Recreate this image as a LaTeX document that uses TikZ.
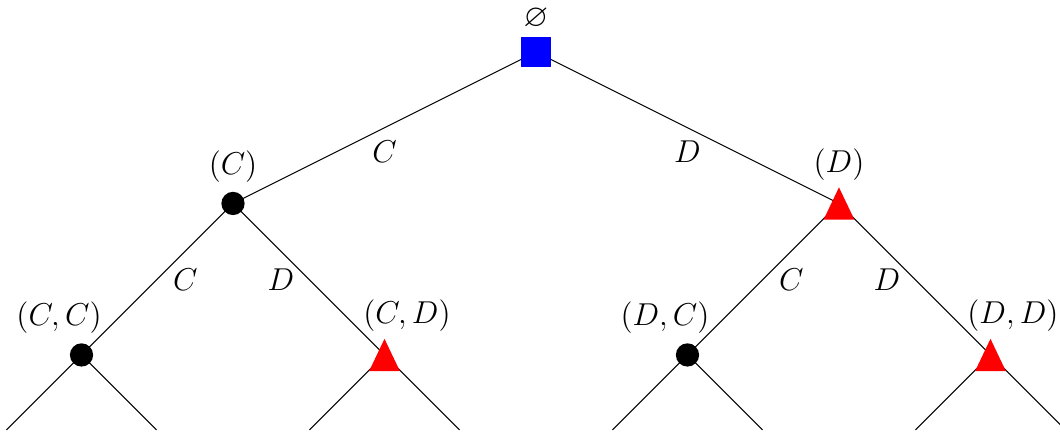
\documentclass[tikz,border=0pt]{standalone}
\usepackage{amssymb}
\usepackage{amsmath}
\usepackage{tikz}
\usetikzlibrary{shapes.geometric, positioning, backgrounds}
\tikzstyle{root} = [rectangle, minimum size=0.4cm, inner sep=0pt, fill=blue]
\tikzstyle{coop} = [circle, minimum size=0.31cm, inner sep=0pt, fill=black, label distance=2pt]
\tikzstyle{defect} = [rectangle, minimum width=0.41cm, minimum height=0.43cm, inner sep=0pt, path picture={\fill [red] (path picture bounding box.south west) -- (path picture bounding box.south east) -- (path picture bounding box.north) -- cycle;}]
\tikzstyle{edge} = [black]

\begin{document}
\begin{tikzpicture}[node distance=2cm, on grid, font=\large]
		\useasboundingbox (-7.147,0.693) rectangle (6.987,-5.093);
		% Nodes
		\node (R) [root, label={[inner sep=0.5pt, label distance=2pt]above:$\varnothing$}] {};
		\node (C) [coop, below left=2.02cm and 4.04cm of R, label=above:$(C)$] {};
		\node (D) [defect, below right=2.02cm and 4.04cm of R, label={[label distance=-1pt]above:$(D)$}] {};
		\node (CC) [coop, below left=2.02cm and 2.02cm of C, label={[xshift=-3mm]above:$(C,C)$}] {};
		\node (CD) [defect, below right=2.02cm and 2.02cm of C, label={[xshift=3mm, label distance=-1pt]above:$(C,D)$}] {};
		\node (DC) [coop, below left=2.02cm and 2.02cm of D, label={[xshift=-3mm]above:$(D,C)$}] {};
		\node (DD) [defect, below right=2.02cm and 2.02cm of D, label={[xshift=3mm, label distance=-1pt]above:$(D,D)$}] {};
		% Edges
		\begin{scope}[on background layer]
		\draw [edge] (R.center) -- node [below=1.5pt] {$C$} (C.center);
		\draw [edge] (R.center) -- node [below=1.5pt] {$D$} (D.center);
		\draw [edge] (C.center) -- node [right=2.5pt] {$C$} (CC.center);
		\draw [edge] (C.center) -- node [left=2pt] {$D$} (CD.center);
		\draw [edge] (D.center) -- node [right=2.5pt] {$C$} (DC.center);
		\draw [edge] (D.center) -- node [left=2pt] {$D$} (DD.center);
		% Next round
		\foreach \n in {CC, CD, DC, DD} {
			\coordinate [below left=1cm and 1cm of \n] (\n-l);
			\coordinate [below right=1cm and 1cm of \n] (\n-r);
			\draw [edge] (\n.center) -- (\n-l);
			\draw [edge] (\n.center) -- (\n-r);
		}
		\end{scope}
	\end{tikzpicture}
\end{document}
